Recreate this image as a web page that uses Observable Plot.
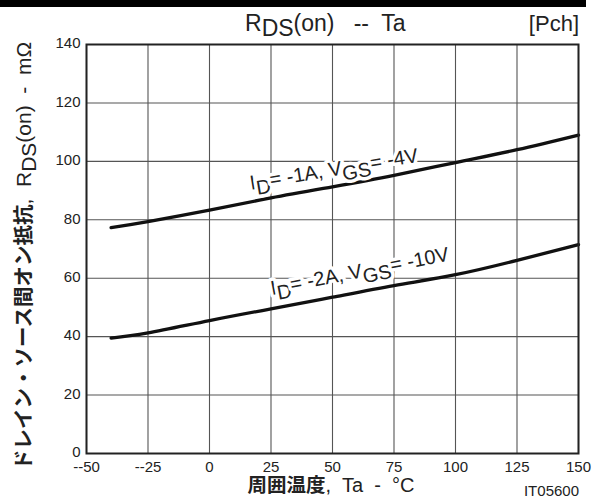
<!DOCTYPE html>
<html><head><meta charset="utf-8">
<script src="https://cdn.jsdelivr.net/npm/d3@7"></script>
<script src="https://cdn.jsdelivr.net/npm/@observablehq/plot@0.6"></script>
<style>
html,body{margin:0;padding:0;background:#fff}
svg{display:block}
</style>
</head><body><div id="chart"></div>
<script>
// ---- data ----
const temps  = [-40, -25, 0, 25, 50, 75, 100, 125, 150];
const rds1A  = [77.3, 79.4, 83.3, 87.5, 91.3, 95.2, 99.6, 104.0, 109.0];
const rds2A  = [39.5, 41.3, 45.5, 49.5, 53.5, 57.5, 61.2, 66.1, 71.5];
const xTicks = [-50, -25, 0, 25, 50, 75, 100, 125, 150];
const xTickLabels = ["--50", "--25", "0", "25", "50", "75", "100", "125", "150"];
const yTicks = [0, 20, 40, 60, 80, 100, 120, 140];
const seriesNames = ["-1A/-4V", "-2A/-10V"];
// curve label anchor (data coords) and rotation
const labelPos = [
  {x: 17.1, y: 90.1, rot: -9.5, id: "-1A", vgs: "-4V"},
  {x: 25.6, y: 54.1, rot: -11, id: "-2A", vgs: "-10V"}
];

const rows = [];
temps.forEach((t, i) => {
  rows.push({t, r: rds1A[i], s: seriesNames[0]});
  rows.push({t, r: rds2A[i], s: seriesNames[1]});
});

const LAT = "'Liberation Sans', Arial, Helvetica, sans-serif";
const CJK = "'Noto Sans CJK JP', 'Noto Sans CJK SC', sans-serif";

const plot = Plot.plot({
  width: 592,
  height: 499,
  marginTop: 44,
  marginRight: 14,
  marginBottom: 46,
  marginLeft: 86,
  style: {fontFamily: LAT, fontSize: "15px", color: "#222", background: "#fff"},
  x: {domain: [-50, 150], ticks: xTicks, tickFormat: d => xTickLabels[xTicks.indexOf(d)], label: null},
  y: {domain: [0, 140], ticks: yTicks, label: null},
  marks: [
    Plot.ruleX(xTicks, {stroke: "#555", strokeWidth: 1.1}),
    Plot.ruleY(yTicks, {stroke: "#555", strokeWidth: 1.1}),
    Plot.line(rows, {x: "t", y: "r", z: "s", curve: "natural", stroke: "#111", strokeWidth: 3.3}),
    Plot.frame({stroke: "#222", strokeWidth: 2}),
    Plot.axisX({ticks: xTicks, tickSize: 0, tickPadding: 8, fontSize: 15, tickFormat: d => xTickLabels[xTicks.indexOf(d)]}),
    Plot.axisY({ticks: yTicks, tickSize: 0, tickPadding: 6, fontSize: 15, dy: -1})
  ]
});
document.getElementById("chart").appendChild(plot);

const svg = d3.select(plot);
const X = plot.scale("x"), Y = plot.scale("y");

// top black bar
svg.append("rect").attr("x", 0).attr("y", 0).attr("width", 586).attr("height", 7).attr("fill", "#000");

// title
const title = svg.append("text").attr("x", 245).attr("y", 31).attr("text-anchor", "start")
  .attr("font-family", LAT).attr("font-size", 23).attr("fill", "#222").style("white-space", "pre");
title.append("tspan").text("R");
title.append("tspan").attr("dy", 5).text("DS");
title.append("tspan").attr("dy", -5).text("(on)   --  Ta");

svg.append("text").attr("x", 579).attr("y", 31).attr("text-anchor", "end")
  .attr("font-family", LAT).attr("font-size", 22).attr("fill", "#222").text("[Pch]");

// y axis title (rotated)
const yl = svg.append("text").attr("transform", "translate(31,470) rotate(-90)")
  .attr("text-anchor", "start").attr("font-family", LAT).attr("font-size", 21).attr("fill", "#222")
  .style("white-space", "pre");
yl.append("tspan").attr("font-family", CJK).attr("font-weight", 700).attr("font-size", 20.5).text("ドレイン・ソース間オン抵抗");
yl.append("tspan").text(",  R");
yl.append("tspan").attr("dy", 5).text("DS");
yl.append("tspan").attr("dy", -5).text("(on)  -  mΩ");

// x axis title
const xl = svg.append("text").attr("x", 331).attr("y", 492).attr("text-anchor", "middle")
  .attr("font-family", LAT).attr("font-size", 20).attr("fill", "#222").style("white-space", "pre");
xl.append("tspan").attr("font-family", CJK).attr("font-weight", 700).attr("font-size", 19.5).text("周囲温度");
xl.append("tspan").text(",  Ta  -  °C");

svg.append("text").attr("x", 579).attr("y", 496).attr("text-anchor", "end")
  .attr("font-family", LAT).attr("font-size", 15).attr("fill", "#222").text("IT05600");

// curve labels
labelPos.forEach(p => {
  const g = svg.append("text")
    .attr("transform", `translate(${X.apply(p.x)},${Y.apply(p.y)}) rotate(${p.rot})`)
    .attr("text-anchor", "start")
    .attr("font-family", LAT).attr("font-size", 20).attr("fill", "#222")
    .attr("stroke", "#fff").attr("stroke-width", 7).attr("stroke-linejoin", "round")
    .attr("paint-order", "stroke").style("white-space", "pre");
  g.append("tspan").text("I");
  g.append("tspan").attr("dy", 6).text("D");
  g.append("tspan").attr("dy", -6).text("= " + p.id + ", V");
  g.append("tspan").attr("dy", 6).text("GS");
  g.append("tspan").attr("dy", -6).text("= " + p.vgs);
});
</script>
</body></html>
